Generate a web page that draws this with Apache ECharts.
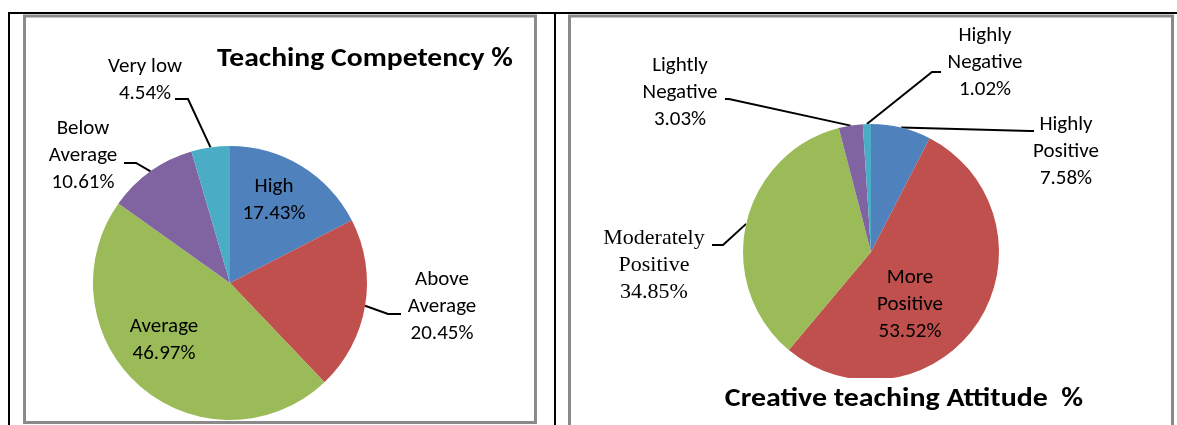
<!DOCTYPE html>
<html><head><meta charset="utf-8">
<script src="https://cdn.jsdelivr.net/npm/echarts@6/dist/echarts.min.js"></script>
<style>html,body{margin:0;padding:0;background:#fff}#c{width:1177px;height:425px}</style>
</head><body><div id="c"></div>
<script>
// ---- data ----
const competencyCategories = ['High', 'Above\nAverage', 'Average', 'Below\nAverage', 'Very low'];
const competencyValues = [17.43, 20.45, 46.97, 10.61, 4.54];
const attitudeCategories = ['Highly\nPositive', 'More\nPositive', 'Moderately\nPositive', 'Lightly\nNegative', 'Highly\nNegative'];
const attitudeValues = [7.58, 53.52, 34.85, 3.03, 1.02];
const chartTitles = ['Teaching Competency %', 'Creative teaching Attitude  %'];

// ---- styling ----
const sliceColors = ['#4F81BD', '#C0504D', '#9BBB59', '#8064A2', '#4BACC6'];
const FONT = 'Carlito, Lato, sans-serif';
const LABEL_SIZE = 21;
const LINE_H = 27;

// label placement (layout only)
const leftPlace = [
  { x: 274, y: 200, inside: true },
  { x: 442, y: 307, line: [[388, 314], [401, 314]] },
  { x: 164, y: 340, inside: true },
  { x: 83, y: 156, line: [[136, 163], [124, 163]] },
  { x: 145, y: 80, line: [[188, 99], [175, 99]] }
];
const rightPlace = [
  { x: 1066, y: 152, line: [[1030, 131], [1034, 131]] },
  { x: 910, y: 305, inside: true },
  { x: 654, y: 265, line: [[723, 245], [712, 245]], serif: true },
  { x: 680, y: 93, line: [[729, 99], [725, 99]] },
  { x: 985, y: 63, line: [[932, 72], [941, 72]] }
];

function buildData(cats, vals, place) {
  return cats.map((c, i) => {
    const p = place[i];
    return {
      name: c,
      value: vals[i],
      itemStyle: { color: sliceColors[i] },
      label: {
        position: p.inside ? 'inside' : 'outside',
        fontFamily: p.serif ? '"Liberation Serif", serif' : FONT,
        fontSize: p.serif ? 22 : LABEL_SIZE
      },
      labelLine: { show: !p.inside }
    };
  });
}

function layoutFor(place) {
  return function (params) {
    const p = place[params.dataIndex];
    const out = { x: p.x, y: p.y, align: 'center', verticalAlign: 'middle' };
    if (p.line && params.labelLinePoints) {
      out.labelLinePoints = [params.labelLinePoints[0], p.line[0], p.line[1]];
    }
    return out;
  };
}

function labelFormatter(params) {
  return params.name + '\n' + Number(params.value).toFixed(2) + '%';
}

const chart = echarts.init(document.getElementById('c'), null, { renderer: 'canvas' });
const commonSeries = {
  type: 'pie',
  startAngle: 90,
  clockwise: true,
  avoidLabelOverlap: false,
  silent: true,
  animation: false,
  label: {
    show: true,
    color: '#000',
    lineHeight: LINE_H,
    align: 'center',
    formatter: labelFormatter
  },
  labelLine: { show: true, lineStyle: { color: '#000', width: 2 }, length: 10, length2: 10 },
  itemStyle: { borderWidth: 0 },
  emphasis: { disabled: true }
};

chart.setOption({
  backgroundColor: '#fff',
  animation: false,
  series: [
    Object.assign({}, commonSeries, {
      center: [230, 283],
      radius: 137,
      data: buildData(competencyCategories, competencyValues, leftPlace),
      labelLayout: layoutFor(leftPlace)
    }),
    Object.assign({}, commonSeries, {
      center: [871, 252],
      radius: 128,
      data: buildData(attitudeCategories, attitudeValues, rightPlace),
      labelLayout: layoutFor(rightPlace)
    })
  ],
  graphic: [
    // clip of right plot area
    { type: 'rect', z: 100, shape: { x: 700, y: 378, width: 350, height: 10 }, style: { fill: '#fff' } },
    // frames
    { type: 'rect', z: 101, shape: { x: 24.5, y: 16, width: 511, height: 406.5 }, style: { fill: null, stroke: '#8a8a8a', lineWidth: 3 } },
    { type: 'rect', z: 101, shape: { x: 569.5, y: 16, width: 603, height: 420 }, style: { fill: null, stroke: '#8a8a8a', lineWidth: 3 } },
    { type: 'rect', z: 102, shape: { x: 8, y: 12, width: 1169, height: 2 }, style: { fill: '#000' } },
    { type: 'rect', z: 102, shape: { x: 8, y: 12, width: 2, height: 413 }, style: { fill: '#000' } },
    { type: 'rect', z: 102, shape: { x: 554, y: 12, width: 2, height: 413 }, style: { fill: '#000' } },
    // titles
    { type: 'text', z: 103, x: 365, y: 59, scaleX: 1.14, style: { text: chartTitles[0], fill: '#000', font: 'bold 26px ' + FONT, align: 'center', verticalAlign: 'middle' } },
    { type: 'text', z: 103, x: 904, y: 399, scaleX: 1.15, style: { text: chartTitles[1], fill: '#000', font: 'bold 26px ' + FONT, align: 'center', verticalAlign: 'middle' } }
  ]
});
</script></body></html>
